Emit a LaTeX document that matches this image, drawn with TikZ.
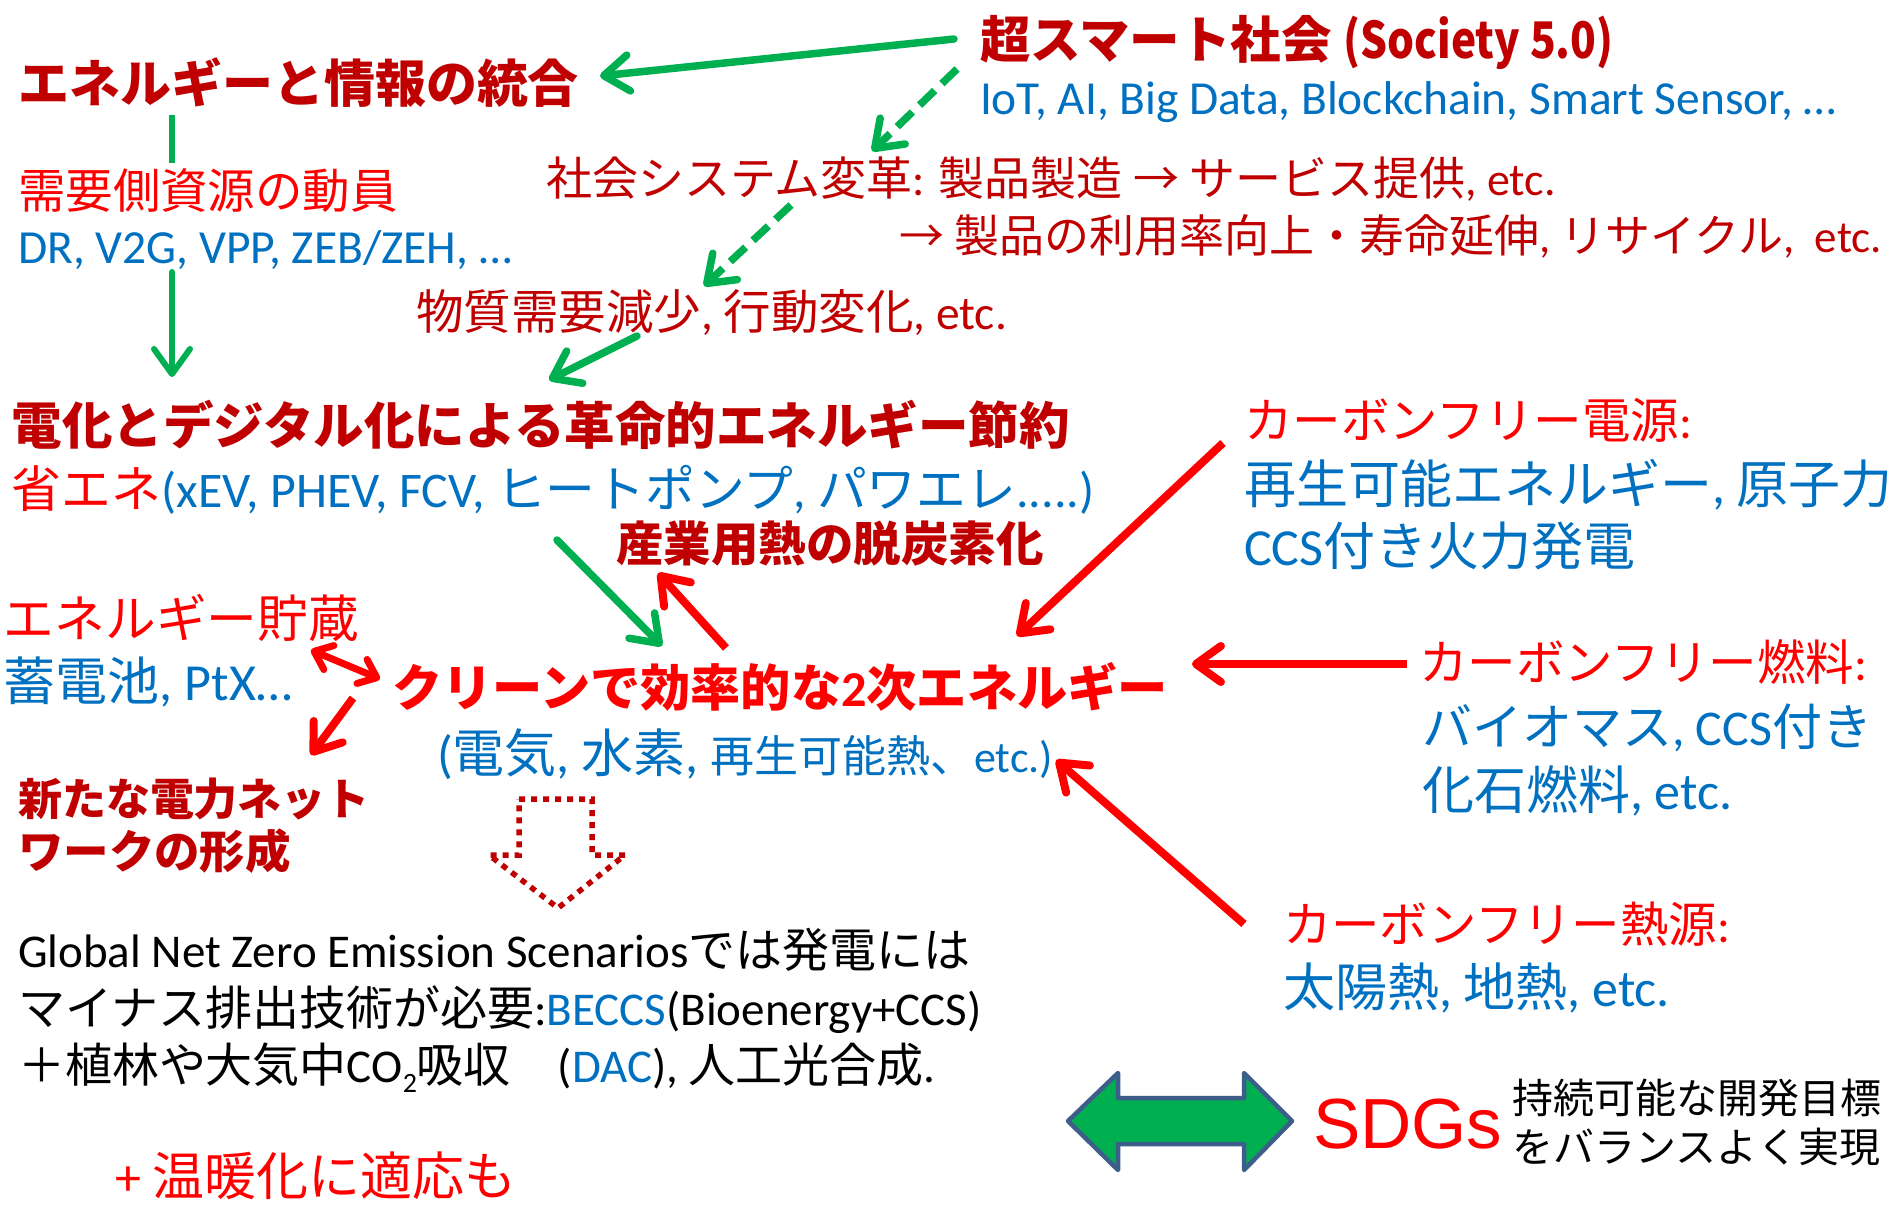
\documentclass[tikz,border=0pt]{standalone}
\usepackage{graphicx}
\usepackage{fontspec}
\setmainfont{Carlito}
\newfontfamily\jpfont{Noto Sans CJK JP}
\newfontfamily\arialf{Liberation Sans}
\usetikzlibrary{arrows.meta,calc}

% automatic switch between Latin (Carlito) and Japanese (Noto Sans CJK JP)
\XeTeXinterchartokenstate=1
\newXeTeXintercharclass\jpclass
\newcount\jpcnt
\def\jprange#1#2{\jpcnt=#1\relax\loop\XeTeXcharclass\jpcnt=\jpclass\relax\ifnum\jpcnt<#2\relax\advance\jpcnt by 1\relax\repeat}
\jprange{"3000}{"30FF}
\jprange{"4E00}{"9FFF}
\jprange{"FF00}{"FFEF}
\XeTeXcharclass"2192=\jpclass
\XeTeXinterchartoks 0 \jpclass = {\jpfont}
\XeTeXinterchartoks 4095 \jpclass = {\jpfont}
\XeTeXinterchartoks \jpclass 0 = {\rmfamily}

\newcommand\fs[1]{\fontsize{#1}{#1}\selectfont}

\definecolor{dred}{RGB}{192,0,0}
\definecolor{bred}{RGB}{255,0,0}
\definecolor{jblue}{RGB}{0,112,192}
\definecolor{jgreen}{RGB}{0,176,80}
\definecolor{sdgedge}{RGB}{62,94,138}

\tikzset{
  txt/.style={anchor=base west, inner sep=0pt, outer sep=0pt},
  garr/.style={draw=jgreen, line width=7.5pt, line cap=round, -{Straight Barb[length=25pt,width=36pt,round]}},
  gdash/.style={garr, line cap=butt, dash pattern=on 21pt off 10pt},
  gline/.style={draw=jgreen, line width=6pt},
  rarr/.style={draw=bred, line width=8pt, -{Straight Barb[length=25pt,width=36pt,round]}},
  rdbl/.style={draw=bred, line width=7pt, {Straight Barb[length=16pt,width=26pt,round]}-{Straight Barb[length=16pt,width=26pt,round]}},
  dotarrow/.style={draw=dred, line width=5.5pt, dash pattern=on 6pt off 6pt},
  blockarrow/.style={draw=sdgedge, line width=4.5pt, fill=jgreen, line join=round},
}

\begin{document}
\begin{tikzpicture}[x=1pt,y=-1pt]
\fill[white] (0,0) rectangle (1893,1211);
\useasboundingbox (0,0) rectangle (1893,1211);

% top
\node[txt, font=\bfseries\fs{50.5}, text=dred] (soc) at (980,58) {超スマート社会 \scalebox{0.84}[1]{(Society 5.0)}};
\node[txt, font=\fs{47.4}, text=jblue] (iot) at (980,114) {IoT, AI, Big Data, Blockchain, Smart Sensor, …};
\node[txt, font=\bfseries\fs{51}, text=dred] (int) at (18,102) {エネルギーと情報の統合};
\node[txt, font=\fs{46}, text=dred] (shakai) at (546,195) {社会システム変革: 製品製造 → サービス提供, etc.};
\node[txt, font=\fs{45}, text=dred] (seihin) at (899,252) {→ 製品の利用率向上・寿命延伸, リサイクル,\ \ etc.};
\node[txt, font=\fs{47.5}, text=bred] (dem) at (18,208) {需要側資源の動員};
\node[txt, font=\fs{47.5}, text=jblue] (dr) at (18,263) {DR, V2G, VPP, ZEB/ZEH, …};
\node[txt, font=\fs{47.5}, text=dred] (buss) at (416,329) {物質需要減少, 行動変化, etc.};

% middle
\node[txt, font=\bfseries\fs{50.5}, text=dred] (denka) at (12,444) {電化とデジタル化による革命的エネルギー節約};
\node[txt, font=\fs{49.8}, text=jblue] (shoene) at (12,507) {\textcolor{bred}{省エネ}(xEV, PHEV, FCV, ヒートポンプ, パワエレ.....)};
\node[txt, font=\bfseries\fs{47.5}, text=dred] (sangyo) at (616,561) {産業用熱の脱炭素化};
\node[txt, font=\fs{50.7}, text=bred] (chozo) at (4,637) {エネルギー貯蔵};
\node[txt, font=\fs{52}, text=jblue] (chikuden) at (4,700) {蓄電池, PtX…};
\node[txt, font=\bfseries\fs{50.2}, text=bred] (clean) at (392,706) {クリーンで効率的な2次エネルギー};
\node[txt, text=jblue] (denki) at (437,772) {{\fs{52}(電気, 水素, }{\fs{44}再生可能熱、etc.)}};
\node[txt, font=\bfseries\fs{44}, text=dred] (net1) at (18,815) {新たな電力ネット};
\node[txt, font=\bfseries\fs{45.5}, text=dred] (net2) at (18,868) {ワークの形成};

% right column
\node[txt, font=\fs{48.5}, text=bred] (cfe) at (1244,438) {カーボンフリー電源:};
\node[txt, font=\fs{52}, text=jblue] (cfe2) at (1244,503) {再生可能エネルギー, 原子力};
\node[txt, font=\fs{52}, text=jblue] (cfe3) at (1244,565) {CCS付き火力発電};
\node[txt, font=\fs{48.5}, text=bred] (cff) at (1419,680) {カーボンフリー燃料:};
\node[txt, font=\fs{50}, text=jblue] (cff2) at (1422,745) {バイオマス, CCS付き};
\node[txt, font=\fs{52}, text=jblue] (cff3) at (1422,809) {化石燃料, etc.};
\node[txt, font=\fs{48.4}, text=bred] (cfh) at (1283,942) {カーボンフリー熱源:};
\node[txt, font=\fs{52}, text=jblue] (cfh2) at (1283,1006) {太陽熱, 地熱, etc.};

% bottom
\node[txt, font=\fs{47}, text=black] (g1) at (18,967) {Global Net Zero Emission Scenariosでは発電には};
\node[txt, font=\fs{47}, text=black] (g2) at (18,1025) {マイナス排出技術が必要:\textcolor{jblue}{BECCS}(Bioenergy+CCS)};
\node[txt, font=\fs{47}, text=black] (g3) at (18,1082) {＋植林や大気中CO\raisebox{-0.22em}{\fs{28}2}吸収　(\textcolor{jblue}{DAC}), 人工光合成.};
\node[txt, font=\fs{52}, text=bred] (ondan) at (115,1195) {+ 温暖化に適応も};
\node[txt, font=\arialf\fs{71}, text=bred] (sdgs) at (1313,1148) {SDGs};
\node[txt, font=\fs{41}, text=black] (sdg1) at (1512,1113) {持続可能な開発目標};
\node[txt, font=\fs{41}, text=black] (sdg2) at (1512,1162) {をバランスよく実現};

% connectors
\draw[garr] ($(soc.base west)+(-26,-19)$) -- ($(int.base east)+(21,-26)$);
\draw[gdash] ($(soc.base west)+(-23,11)$) -- ($(shakai.base west)+(326,-44)$);
\draw[gdash] ($(shakai.base west)+(245,10)$) -- ($(buss.base west)+(288,-43)$);
\draw[garr] ($(buss.base west)+(221,7)$) -- ($(denka.base west)+(537,-64)$);
\draw[gline] ($(int.base west)+(154,13)$) -- ($(dem.base west)+(154,-45)$);
\draw[garr, line width=6pt] ($(dr.base west)+(154,9)$) -- ($(denka.base west)+(160,-67)$);
\draw[garr] ($(shoene.base west)+(545,33)$) -- ($(clean.base west)+(270,-60)$);
\draw[rarr] ($(clean.base west)+(334,-58)$) -- ($(sangyo.base west)+(42,12)$);
\draw[rarr] ($(cfe.base west)+(-21,5)$) -- ($(clean.base east)+(-151,-70)$);
\draw[rarr] ($(cff.base west)+(-12,-16)$) -- ($(clean.base east)+(24,-42)$);
\draw[rarr] ($(cfh.base west)+(-39,-18)$) -- ($(denki.base east)+(3,-12)$);
\draw[rdbl] ($(chozo.base east)+(-48,13)$) -- ($(clean.base west)+(-12,-27)$);
\draw[rarr] ($(clean.base west)+(-39,-8)$) -- ($(net1.base west)+(293,-60)$);

% dotted block arrow
\draw[dotarrow] (519,799) -- (592,799) -- (592,855) -- (625,855) -- (558,908) -- (489,855) -- (519,855) -- cycle;

% SDGs double block arrow
\draw[blockarrow] (1068,1121) -- (1118,1073) -- (1118,1098) -- (1244,1098) -- (1244,1073) -- (1292,1121) -- (1244,1170) -- (1244,1144) -- (1118,1144) -- (1118,1170) -- cycle;
\end{tikzpicture}
\end{document}
